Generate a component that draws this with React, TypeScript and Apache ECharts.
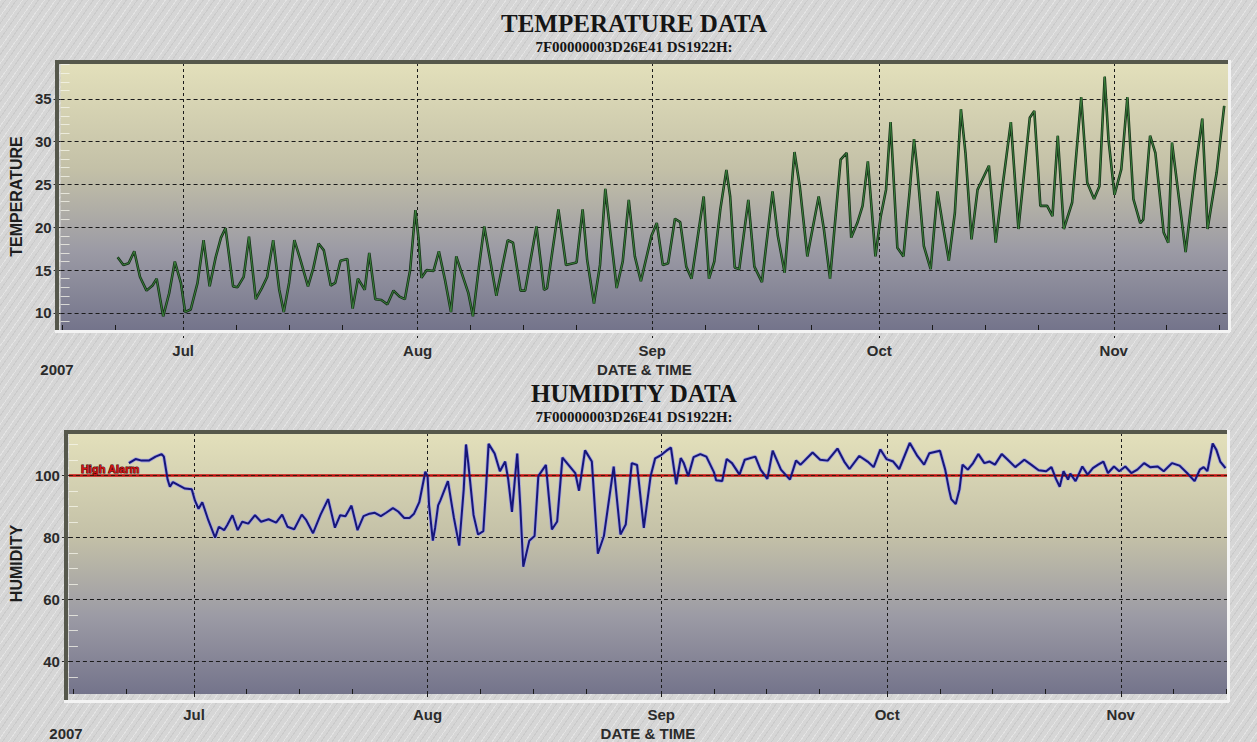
import { useEffect, useRef } from "react";
import * as echarts from "echarts";

// Day offsets are counted from 1 Jul 2007.
const yearLabel = "2007";
const monthStarts = [0, 31, 62, 92, 123];
const monthNames = ["Jul", "Aug", "Sep", "Oct", "Nov"];
const weekTicks = [-16, -9, 7, 14, 21, 38, 45, 52, 69, 76, 83, 99, 106, 113, 130, 137];

const tempTicks = [10, 15, 20, 25, 30, 35];
const humTicks = [40, 60, 80, 100];
const humMinorTicks = [35, 45, 50, 55, 65, 70, 75, 85, 90, 95, 105, 110];
const highAlarm = 100;

const tempDays = [
  -8.66, -7.9, -7.2, -6.46, -5.7, -4.84, -4.05, -3.5, -2.64, -1.85, -1.1, -0.3, 0.26, 1.0, 1.9, 2.7, 3.5,
  4.3, 5.0, 5.6, 6.6, 7.2, 8.0, 8.7, 9.6, 10.4, 11.1, 11.9, 12.7, 13.3, 14.0, 14.7, 15.5, 16.5, 17.2,
  17.9, 18.6, 19.5, 20.1, 20.8, 21.7, 22.4, 23.1, 24.0, 24.6, 25.4, 26.2, 27.0, 27.8, 28.6, 29.3, 30.0,
  30.7, 31.1, 31.5, 32.2, 33.1, 33.8, 34.6, 35.4, 36.1, 36.8, 37.7, 38.3, 39.1, 39.8, 41.4, 42.9, 43.6,
  44.6, 45.2, 46.7, 47.7, 48.1, 49.6, 50.6, 52.0, 52.8, 53.4, 54.3, 55.1, 55.8, 57.3, 58.1, 58.9, 59.7,
  60.5, 61.9, 62.6, 63.4, 64.1, 65.0, 65.7, 66.5, 67.2, 68.8, 69.5, 70.2, 71.0, 71.8, 72.3, 72.9, 73.5,
  74.7, 75.5, 76.5, 77.9, 78.6, 79.5, 80.8, 81.5, 82.5, 84.0, 84.7, 85.5, 86.9, 87.7, 88.3, 89.1, 89.8,
  90.5, 91.5, 92.2, 92.9, 93.5, 94.4, 95.2, 96.0, 96.6, 97.0, 97.9, 98.8, 99.7, 100.4, 101.2, 102.0,
  102.8, 103.4, 104.2, 105.0, 106.5, 107.4, 108.3, 109.4, 110.4, 111.9, 112.5, 113.3, 114.2, 114.9,
  115.6, 116.4, 117.5, 118.7, 119.5, 120.4, 121.1, 121.8, 122.3, 123.1, 124.0, 124.8, 125.6, 126.5,
  126.9, 127.8, 128.5, 129.6, 130.2, 130.7, 132.5, 133.8, 134.7, 135.4, 136.6, 137.6,
];
const tempValues = [
  16.5, 15.6, 15.8, 17.2, 14.2, 12.6, 13.2, 14.0, 9.6, 12.3, 16.0, 13.5, 10.1, 10.4, 13.5, 18.5, 13.1,
  16.5, 18.8, 19.9, 13.1, 13.0, 14.2, 18.9, 11.6, 12.9, 14.2, 18.5, 12.7, 10.1, 13.5, 18.5, 16.2, 13.1, 15.2,
  18.1, 17.3, 13.2, 13.5, 16.1, 16.3, 10.5, 14.0, 12.7, 17.0, 11.6, 11.5, 11.0, 12.6, 11.9, 11.6, 15.0,
  22.0, 18.8, 14.1, 15.0, 14.9, 17.2, 13.9, 10.1, 16.6, 14.7, 12.3, 9.6, 15.4, 20.1, 12.0, 18.5, 18.2,
  12.6, 12.6, 20.1, 12.7, 12.9, 22.1, 15.6, 15.9, 22.1, 16.2, 11.1, 15.6, 24.5, 12.9, 16.0, 23.2, 16.6,
  13.7, 19.0, 20.5, 15.6, 15.8, 21.0, 20.6, 15.4, 14.0, 23.6, 14.0, 16.0, 22.1, 26.7, 23.6, 15.3, 15.1,
  23.2, 15.4, 13.6, 24.2, 19.0, 14.7, 28.8, 24.8, 16.6, 23.6, 19.7, 14.0, 27.9, 28.7, 18.8, 20.5, 22.5,
  27.7, 16.6, 21.3, 24.4, 32.3, 17.6, 16.6, 24.0, 30.3, 27.0, 17.8, 15.1, 24.2, 20.3, 16.1, 21.7,
  33.8, 28.7, 18.6, 24.4, 27.2, 18.2, 24.8, 32.3, 19.8, 32.8, 33.6, 22.5, 22.5, 21.3,
  30.7, 19.8, 22.9, 35.2, 25.2, 23.3, 24.8, 37.6, 30.3, 23.8, 26.8, 35.2, 23.3, 20.5,
  20.9, 30.7, 28.7, 19.4, 18.2, 29.9, 17.1, 26.8, 32.7, 19.8, 26.4, 34.2,
];

const humDays = [
  -8.64, -7.75, -6.95, -6.0, -5.1, -4.3, -4.0, -3.5, -3.2, -2.8, -2.0, -1.2, -0.3, 0.13, 0.6, 1.1, 1.9,
  2.8, 3.3, 4.0, 4.4, 5.1, 5.8, 6.4, 7.2, 8.1, 8.9, 9.9, 10.9, 11.7, 12.4, 13.3, 14.3, 14.9, 15.8, 16.8,
  17.8, 18.7, 19.4, 20.1, 20.9, 21.7, 22.5, 23.3, 24.0, 24.8, 25.5, 26.4, 27.1, 27.9, 28.6, 29.2, 29.9,
  30.7, 31.0, 31.2, 31.7, 32.0, 32.4, 32.7, 33.7, 34.5, 35.2, 35.8, 36.1, 36.4, 37.1, 37.7, 38.4, 38.7,
  39.1, 39.9, 40.6, 41.3, 41.7, 42.2, 42.9, 43.3, 43.7, 44.5, 45.2, 45.7, 46.7, 47.5, 48.2, 48.9, 50.6,
  51.1, 51.9, 52.8, 53.6, 54.4, 55.7, 56.6, 57.3, 58.1, 58.8, 59.7, 60.6, 61.2, 62.0, 62.7, 63.3, 64.0,
  64.6, 65.0, 65.6, 66.3, 67.2, 68.0, 69.0, 69.3, 70.1, 70.7, 71.4, 72.4, 73.1, 74.5, 75.2, 76.1, 76.8,
  77.9, 79.1, 79.9, 80.5, 82.1, 83.1, 84.1, 85.4, 86.3, 87.0, 88.3, 89.4, 90.2, 91.1, 91.9, 92.8, 93.6,
  95.0, 96.0, 96.9, 97.6, 99.0, 99.7, 100.2, 100.5, 101.1, 101.6, 102.0, 102.7, 103.4, 104.1, 104.9,
  105.6, 106.3, 107.2, 108.0, 109.0, 110.2, 111.1, 112.1, 113.1, 113.8, 114.4, 114.9, 115.4, 116.0,
  116.3, 117.0, 117.9, 118.6, 119.3, 120.0, 120.7, 121.3, 122.1, 122.8, 123.6, 124.4, 125.2, 126.1,
  126.9, 127.9, 128.7, 129.8, 130.8, 131.8, 132.8, 133.5, 134.0, 134.5, 135.2, 135.7, 136.2, 136.9,
];
const humValues = [
  104.0, 105.3, 104.8, 104.8, 106.1, 106.9, 106.1, 98.7, 96.4, 97.9, 96.8, 95.8, 95.6, 91.9, 89.3, 91.4, 85.6,
  80.0, 83.5, 82.4, 84.0, 87.2, 82.4, 85.1, 84.5, 87.2, 85.1, 85.9, 84.8, 87.4, 83.5, 82.7, 87.4, 85.6, 81.4, 87.4,
  92.4, 83.2, 87.2, 86.9, 90.3, 82.4, 86.9, 87.7, 88.0, 86.9, 88.0, 89.5, 88.4, 86.3, 86.3, 87.7, 91.4,
  101.2, 99.8, 90.4, 79.0, 83.1, 90.4, 92.0, 98.2, 86.3, 77.4, 95.6, 110.0, 104.0, 87.3, 81.0, 82.1, 93.5,
  110.2, 107.1, 101.4, 104.5, 98.8, 88.3, 107.1, 90.4, 70.6, 79.0, 80.5, 99.8, 103.4, 82.6, 85.2, 105.8, 100.8,
  95.1, 108.1, 104.5, 74.8, 80.5, 102.9, 81.0, 84.2, 104.0, 103.4, 83.1, 99.8, 105.5, 106.6, 108.0, 109.0, 97.2,
  105.6, 104.0, 99.8, 105.9, 106.9, 106.1, 101.1, 98.5, 98.2, 105.3, 104.0, 100.3, 105.1, 106.1, 101.9, 98.9, 108.0,
  101.9, 98.7, 104.8, 103.5, 107.4, 105.1, 104.8, 108.7, 104.5, 102.1, 106.3, 104.5, 102.7, 108.4, 105.3, 104.5, 102.1,
  110.5, 106.3, 103.5, 107.2, 108.0, 101.9, 95.6, 92.4, 90.8, 95.6, 103.5, 101.9, 104.0, 106.9, 104.0,
  104.5, 103.5, 106.9, 105.1, 102.7, 105.1, 103.5, 101.7, 101.4, 102.7, 98.9, 96.4, 101.4, 98.7,
  100.6, 98.2, 102.9, 100.3, 102.4, 103.5, 104.5, 100.8, 102.9, 101.4, 102.9, 100.8, 101.9, 104.0,
  102.7, 102.9, 101.4, 104.0, 103.2, 100.8, 98.2, 101.9, 102.7, 101.4, 110.3, 108.2, 104.5, 102.4,
];

const tempData = tempDays.map((d, i) => [d, tempValues[i]]);
const humData = humDays.map((d, i) => [d, humValues[i]]);

const SANS = "'Liberation Sans', Arial, sans-serif";
const SERIF = "'Liberation Serif', 'Times New Roman', serif";

const TOP = { left: 58, top: 63, width: 1170, height: 267, xMin: -16.2, xMax: 138.1, yMin: 8, yMax: 39.2 };
const BOT = { left: 67, top: 433, width: 1160, height: 267, xMin: -16.6, xMax: 137.1, yMin: 29.6, yMax: 113.7 };

const plotFill = () =>
  new echarts.graphic.LinearGradient(0, 0, 0, 1, [
    { offset: 0, color: "#e3e0bb" },
    { offset: 0.4, color: "#c3c0a7" },
    { offset: 0.7, color: "#9c9ba5" },
    { offset: 1, color: "#74748b" },
  ]);

const monthLabel = (v: number) => {
  const i = monthStarts.indexOf(Math.round(v));
  return i >= 0 ? monthNames[i] : "";
};

function mainX(gridIndex: number, box: typeof TOP, nameGap: number) {
  return {
    type: "value",
    gridIndex,
    position: "bottom",
    min: box.xMin,
    max: box.xMax,
    name: "DATE & TIME",
    nameLocation: "middle",
    nameGap,
    nameTextStyle: { fontFamily: SANS, fontWeight: "bold", fontSize: 15, color: "#2b2b2b" },
    axisLine: { show: false, onZero: false },
    axisTick: {
      show: true,
      length: 8,
      customValues: monthStarts,
      lineStyle: { color: "#1a1a1a", type: [3, 3], width: 1 },
    },
    axisLabel: {
      show: true,
      customValues: monthStarts,
      margin: 13,
      formatter: monthLabel,
      fontFamily: SANS,
      fontWeight: "bold",
      fontSize: 15,
      color: "#2b2b2b",
    },
    splitLine: { show: true, lineStyle: { color: "#1a1a1a", type: [3, 3], width: 1 } },
  };
}

function minorX(gridIndex: number, box: typeof TOP) {
  return {
    type: "value",
    gridIndex,
    position: "bottom",
    min: box.xMin,
    max: box.xMax,
    axisLine: { show: false, onZero: false },
    axisTick: { show: true, inside: true, length: 5, customValues: weekTicks, lineStyle: { color: "#1a1a1a", width: 1 } },
    axisLabel: { show: false },
    splitLine: { show: false },
  };
}

function mainY(gridIndex: number, box: typeof TOP, name: string, ticks: number[], nameGap: number) {
  return {
    type: "value",
    gridIndex,
    position: "left",
    min: box.yMin,
    max: box.yMax,
    name,
    nameLocation: "middle",
    nameGap,
    nameRotate: 90,
    nameTextStyle: { fontFamily: SANS, fontWeight: "bold", fontSize: 16, color: "#1e1e1e" },
    axisLine: { show: false, onZero: false },
    axisTick: { show: true, length: 7, customValues: ticks, lineStyle: { color: "#2b2b2b", width: 1 } },
    axisLabel: {
      show: true,
      customValues: ticks,
      margin: 9,
      fontFamily: SANS,
      fontWeight: "bold",
      fontSize: 15,
      color: "#2b2b2b",
    },
    splitLine: { show: true, lineStyle: { color: "#1a1a1a", type: [4, 3], width: 1 } },
  };
}

function minorY(gridIndex: number, box: typeof TOP, ticks: number[]) {
  return {
    type: "value",
    gridIndex,
    position: "left",
    min: box.yMin,
    max: box.yMax,
    axisLine: { show: false, onZero: false },
    axisTick: { show: true, inside: true, length: 9, customValues: ticks, lineStyle: { color: "rgba(245,245,235,0.75)", width: 1 } },
    axisLabel: { show: false },
    splitLine: { show: false },
  };
}

function frame(box: typeof TOP) {
  const dark = "#56584c";
  const light = "#f3f3f3";
  return [
    { type: "rect", z: 50, shape: { x: box.left - 3, y: box.top - 3, width: box.width + 4, height: 4 }, style: { fill: dark } },
    { type: "rect", z: 50, shape: { x: box.left - 3, y: box.top - 3, width: 4, height: box.height + 4 }, style: { fill: dark } },
    { type: "rect", z: 50, shape: { x: box.left - 3, y: box.top + box.height, width: box.width + 5, height: 3 }, style: { fill: light } },
    { type: "rect", z: 50, shape: { x: box.left + box.width, y: box.top - 3, width: 3, height: box.height + 5 }, style: { fill: light } },
  ];
}

function titleTexts(box: typeof TOP, title: string, sub: string) {
  const cx = 634;
  return [
    {
      type: "text",
      z: 50,
      x: cx,
      y: box.top - 40,
      style: { text: title, fontFamily: SERIF, fontWeight: "bold", fontSize: 25, fill: "#151515", align: "center", verticalAlign: "middle" },
    },
    {
      type: "text",
      z: 50,
      x: cx,
      y: box.top - 16,
      style: { text: sub, fontFamily: SERIF, fontWeight: "bold", fontSize: 15, fill: "#151515", align: "center", verticalAlign: "middle" },
    },
  ];
}

export default function App() {
  const ref = useRef<HTMLDivElement>(null);

  useEffect(() => {
    if (!ref.current) return;
    const chart = echarts.init(ref.current, undefined, { renderer: "svg" });
    const tempMinor: number[] = [];
    for (let v = 9; v <= 39; v++) if (v % 5 !== 0) tempMinor.push(v);

    chart.setOption({
      animation: false,
      backgroundColor: "transparent",
      grid: [
        { left: TOP.left, top: TOP.top, width: TOP.width, height: TOP.height, show: true, backgroundColor: plotFill(), borderWidth: 0 },
        { left: BOT.left, top: BOT.top, width: BOT.width, height: BOT.height, show: true, backgroundColor: plotFill(), borderWidth: 0 },
      ],
      xAxis: [mainX(0, TOP, 32), minorX(0, TOP), mainX(1, BOT, 32), minorX(1, BOT)],
      yAxis: [
        mainY(0, TOP, "TEMPERATURE", tempTicks, 30),
        minorY(0, TOP, tempMinor),
        mainY(1, BOT, "HUMIDITY", humTicks, 40),
        minorY(1, BOT, humMinorTicks),
      ],
      series: [
        {
          type: "line",
          xAxisIndex: 0,
          yAxisIndex: 0,
          data: tempData,
          showSymbol: false,
          silent: true,
          lineStyle: { color: "#17321a", width: 2.6 },
          z: 3,
        },
        {
          type: "line",
          xAxisIndex: 0,
          yAxisIndex: 0,
          data: tempData,
          showSymbol: false,
          silent: true,
          lineStyle: { color: "#3f8a40", width: 0.9 },
          z: 4,
        },
        {
          type: "line",
          xAxisIndex: 2,
          yAxisIndex: 2,
          data: humData,
          showSymbol: false,
          silent: true,
          lineStyle: { color: "#a3a3dc", width: 3.6 },
          z: 3,
        },
        {
          type: "line",
          xAxisIndex: 2,
          yAxisIndex: 2,
          data: humData,
          showSymbol: false,
          silent: true,
          lineStyle: { color: "#16167a", width: 2 },
          z: 5,
          markLine: {
            silent: true,
            symbol: "none",
            z: 4,
            data: [
              {
                yAxis: highAlarm,
                lineStyle: { color: "#c41010", width: 2.5, type: "solid" },
                label: {
                  show: true,
                  formatter: "High Alarm",
                  position: "insideStartTop",
                  distance: [12, 1],
                  fontFamily: SANS,
                  fontWeight: "bold",
                  fontSize: 11,
                  color: "#d01414",
                  textBorderColor: "#3a0808",
                  textBorderWidth: 1,
                },
              },
              {
                yAxis: highAlarm,
                lineStyle: { color: "#3a1a08", width: 1, type: [4, 3] },
                label: { show: false },
              },
            ],
          },
        },
      ],
      graphic: [
        ...frame(TOP),
        ...frame(BOT),
        ...titleTexts(TOP, "TEMPERATURE DATA", "7F00000003D26E41 DS1922H:"),
        ...titleTexts(BOT, "HUMIDITY DATA", "7F00000003D26E41 DS1922H:"),
        {
          type: "text",
          z: 50,
          x: 57,
          y: 369,
          style: { text: yearLabel, fontFamily: SANS, fontWeight: "bold", fontSize: 15, fill: "#2b2b2b", align: "center", verticalAlign: "middle" },
        },
        {
          type: "text",
          z: 50,
          x: 66,
          y: 733,
          style: { text: yearLabel, fontFamily: SANS, fontWeight: "bold", fontSize: 15, fill: "#2b2b2b", align: "center", verticalAlign: "middle" },
        },
      ],
    });

    return () => chart.dispose();
  }, []);

  return (
    <div
      ref={ref}
      style={{
        position: "fixed",
        left: 0,
        top: 0,
        width: 1257,
        height: 742,
        backgroundColor: "#d6d6d6",
        backgroundImage:
          "repeating-linear-gradient(125deg, rgba(255,255,255,0.32) 0px, rgba(255,255,255,0.32) 1px, rgba(0,0,0,0) 1px, rgba(0,0,0,0) 4px, rgba(0,0,0,0.05) 4px, rgba(0,0,0,0.05) 5px, rgba(0,0,0,0) 5px, rgba(0,0,0,0) 9px)",
      }}
    />
  );
}
